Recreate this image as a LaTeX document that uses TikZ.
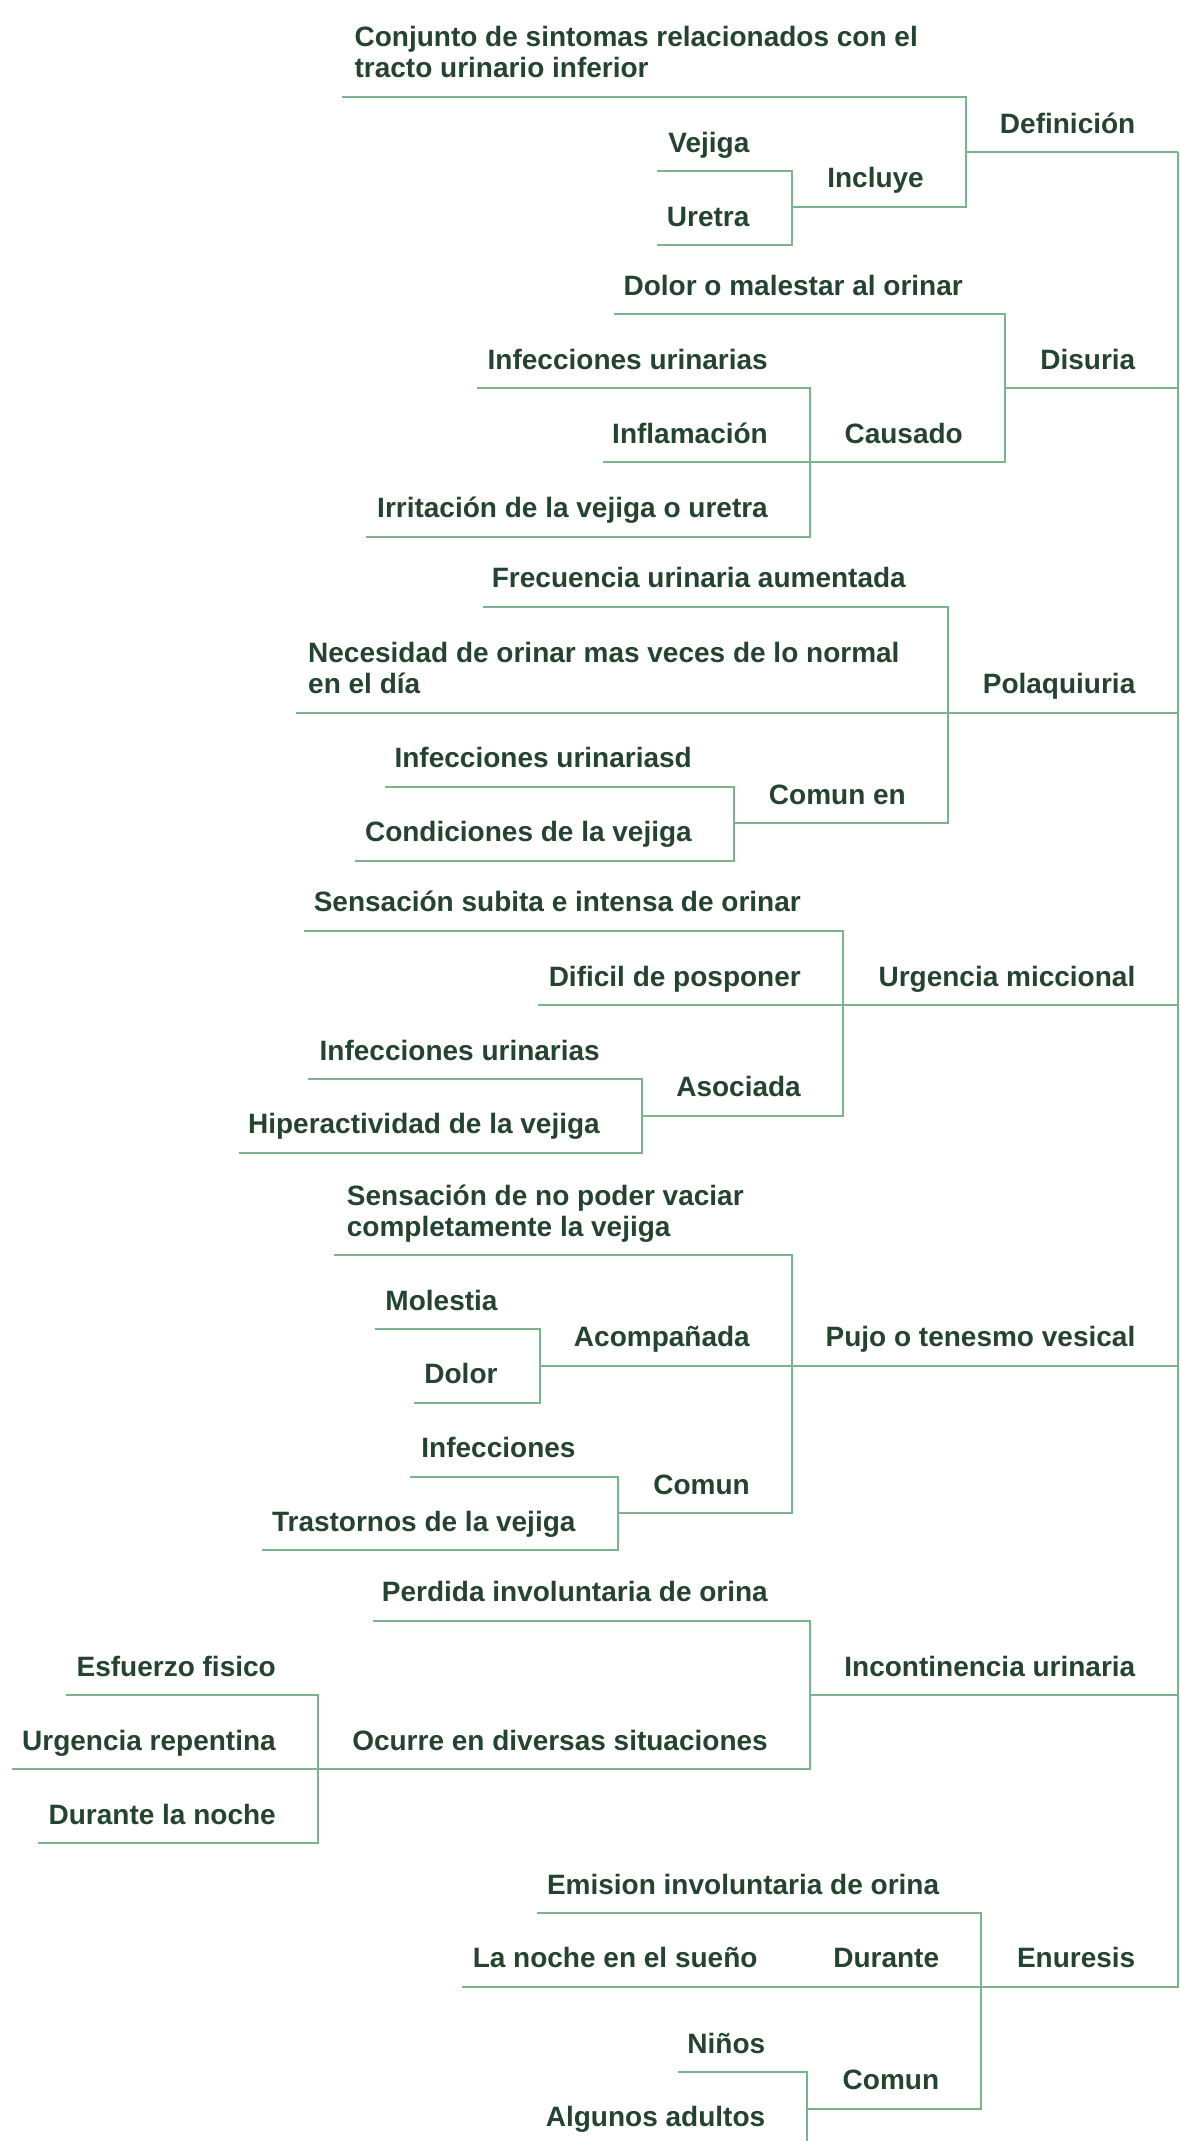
\documentclass[tikz,border=0pt]{standalone}
\usepackage{fontspec}
\setmainfont{Liberation Sans}
\definecolor{ink}{RGB}{36,68,48}
\definecolor{stem}{RGB}{122,180,140}

\begin{document}
\begin{tikzpicture}[x=1pt, y=-1pt,
  topic/.style={text=ink, font=\bfseries\fontsize{28}{31}\selectfont, inner sep=0pt},
  branch/.style={draw=stem, line width=2pt}]
\clip (0,0) rectangle (1179,2141);
\coordinate (root) at (1177.5,152.3);

% Definicion
\node[topic, anchor=base east] (definicion) at (1135.5,133.3) {Definición};
\coordinate (definicion-u) at (966,152.3);
\node[topic, anchor=base west, align=left] (conjunto) at (354.4,77.7) {Conjunto de sintomas relacionados con el\\tracto urinario inferior};
\coordinate (conjunto-u) at (342,96.7);
\node[topic, anchor=base east] (incluye) at (924,187.7) {Incluye};
\coordinate (incluye-u) at (791.6,206.7);
\node[topic, anchor=base east] (vejiga) at (749.6,152) {Vejiga};
\coordinate (vejiga-u) at (657,171);
\node[topic, anchor=base east] (uretra) at (749.6,226) {Uretra};
\coordinate (uretra-u) at (657,245);

% Disuria
\node[topic, anchor=base east] (disuria) at (1135.5,369.3) {Disuria};
\coordinate (disuria-u) at (1005,388.3);
\node[topic, anchor=base east] (dolor) at (963,295.3) {Dolor o malestar al orinar};
\coordinate (dolor-u) at (614,314.3);
\node[topic, anchor=base east] (causado) at (963,443.3) {Causado};
\coordinate (causado-u) at (810,462.3);
\node[topic, anchor=base east] (infeccA) at (768,369.3) {Infecciones urinarias};
\coordinate (infeccA-u) at (476.6,388.3);
\node[topic, anchor=base east] (inflamacion) at (768,443.3) {Inflamación};
\coordinate (inflamacion-u) at (602.7,462.3);
\node[topic, anchor=base east] (irritacion) at (768,517.7) {Irritación de la vejiga o uretra};
\coordinate (irritacion-u) at (366,536.7);

% Polaquiuria
\node[topic, anchor=base east] (polaquiuria) at (1135.5,693.7) {Polaquiuria};
\coordinate (polaquiuria-u) at (948,712.7);
\node[topic, anchor=base east] (frecuencia) at (906,587.7) {Frecuencia urinaria aumentada};
\coordinate (frecuencia-u) at (482.8,606.7);
\node[topic, anchor=base west, align=left] (necesidad) at (308,693.7) {Necesidad de orinar mas veces de lo normal\\en el día};
\coordinate (necesidad-u) at (296.2,712.7);
\node[topic, anchor=base east] (comunen) at (906,804.3) {Comun en};
\coordinate (comunen-u) at (734,823.3);
\node[topic, anchor=base east] (infeccB) at (692,767.7) {Infecciones urinariasd};
\coordinate (infeccB-u) at (384.5,786.7);
\node[topic, anchor=base east] (condiciones) at (692,841.7) {Condiciones de la vejiga};
\coordinate (condiciones-u) at (354.9,860.7);

% Urgencia miccional
\node[topic, anchor=base east] (urgencia) at (1135.5,986) {Urgencia miccional};
\coordinate (urgencia-u) at (843.1,1005);
\node[topic, anchor=base east] (subita) at (801,911.7) {Sensación subita e intensa de orinar};
\coordinate (subita-u) at (304.3,930.7);
\node[topic, anchor=base east] (dificil) at (801,986) {Dificil de posponer};
\coordinate (dificil-u) at (538.4,1005);
\node[topic, anchor=base east] (asociada) at (801,1096.7) {Asociada};
\coordinate (asociada-u) at (642.1,1115.7);
\node[topic, anchor=base east] (infeccC) at (600,1060) {Infecciones urinarias};
\coordinate (infeccC-u) at (308,1079);
\node[topic, anchor=base east] (hiper) at (600,1133.7) {Hiperactividad de la vejiga};
\coordinate (hiper-u) at (238.7,1152.7);

% Pujo o tenesmo vesical
\node[topic, anchor=base east] (pujo) at (1135.5,1346.7) {Pujo o tenesmo vesical};
\coordinate (pujo-u) at (791.9,1365.7);
\node[topic, anchor=base west, align=left] (vaciar) at (346.7,1236) {Sensación de no poder vaciar\\completamente la vejiga};
\coordinate (vaciar-u) at (334.2,1255);
\node[topic, anchor=base east] (acompanada) at (750,1346.7) {Acompañada};
\coordinate (acompanada-u) at (539.7,1365.7);
\node[topic, anchor=base east] (molestia) at (497.7,1310) {Molestia};
\coordinate (molestia-u) at (374.8,1329);
\node[topic, anchor=base east] (dolorB) at (497.7,1383.7) {Dolor};
\coordinate (dolorB-u) at (414.2,1402.7);
\node[topic, anchor=base east] (comunA) at (750,1494.3) {Comun};
\coordinate (comunA-u) at (617.7,1513.3);
\node[topic, anchor=base east] (infeccD) at (575.7,1457.7) {Infecciones};
\coordinate (infeccD-u) at (409.8,1476.7);
\node[topic, anchor=base east] (trastornos) at (575.7,1531) {Trastornos de la vejiga};
\coordinate (trastornos-u) at (262.4,1550);

% Incontinencia urinaria
\node[topic, anchor=base east] (incontinencia) at (1135.5,1676) {Incontinencia urinaria};
\coordinate (incontinencia-u) at (810.1,1695);
\node[topic, anchor=base east] (perdida) at (768,1601.7) {Perdida involuntaria de orina};
\coordinate (perdida-u) at (372.8,1620.7);
\node[topic, anchor=base east] (ocurre) at (768,1750) {Ocurre en diversas situaciones};
\coordinate (ocurre-u) at (317.9,1769);
\node[topic, anchor=base east] (esfuerzo) at (276,1676) {Esfuerzo fisico};
\coordinate (esfuerzo-u) at (66.2,1695);
\node[topic, anchor=base east] (repentina) at (276,1750) {Urgencia repentina};
\coordinate (repentina-u) at (12.3,1769);
\node[topic, anchor=base east] (noche) at (276,1824.3) {Durante la noche};
\coordinate (noche-u) at (38.3,1843.3);

% Enuresis
\node[topic, anchor=base east] (enuresis) at (1135.5,1967.7) {Enuresis};
\coordinate (enuresis-u) at (981.3,1986.7);
\node[topic, anchor=base east] (emision) at (939.3,1894) {Emision involuntaria de orina};
\coordinate (emision-u) at (536.6,1913);
\node[topic, anchor=base east] (durante) at (939.3,1967.7) {Durante};
\coordinate (durante-u) at (770.1,1986.7);
\node[topic, anchor=base east] (sueno) at (757.7,1967.7) {La noche en el sueño};
\coordinate (sueno-u) at (462.1,1986.7);
\node[topic, anchor=base east] (comunB) at (939.3,2089.7) {Comun};
\coordinate (comunB-u) at (807.4,2108.7);
\node[topic, anchor=base east] (ninos) at (765.4,2053.3) {Niños};
\coordinate (ninos-u) at (678.2,2072.3);
\node[topic, anchor=base east] (adultos) at (765.4,2126) {Algunos adultos};
\coordinate (adultos-u) at (537,2145);

% connectors
\draw[branch] (root) |- (definicion-u);
\draw[branch] (root) |- (disuria-u);
\draw[branch] (root) |- (polaquiuria-u);
\draw[branch] (root) |- (urgencia-u);
\draw[branch] (root) |- (pujo-u);
\draw[branch] (root) |- (incontinencia-u);
\draw[branch] (root) |- (enuresis-u);
\draw[branch] (definicion-u) |- (conjunto-u);
\draw[branch] (definicion-u) |- (incluye-u);
\draw[branch] (incluye-u) |- (vejiga-u);
\draw[branch] (incluye-u) |- (uretra-u);
\draw[branch] (disuria-u) |- (dolor-u);
\draw[branch] (disuria-u) |- (causado-u);
\draw[branch] (causado-u) |- (infeccA-u);
\draw[branch] (causado-u) |- (inflamacion-u);
\draw[branch] (causado-u) |- (irritacion-u);
\draw[branch] (polaquiuria-u) |- (frecuencia-u);
\draw[branch] (polaquiuria-u) |- (necesidad-u);
\draw[branch] (polaquiuria-u) |- (comunen-u);
\draw[branch] (comunen-u) |- (infeccB-u);
\draw[branch] (comunen-u) |- (condiciones-u);
\draw[branch] (urgencia-u) |- (subita-u);
\draw[branch] (urgencia-u) |- (dificil-u);
\draw[branch] (urgencia-u) |- (asociada-u);
\draw[branch] (asociada-u) |- (infeccC-u);
\draw[branch] (asociada-u) |- (hiper-u);
\draw[branch] (pujo-u) |- (vaciar-u);
\draw[branch] (pujo-u) |- (acompanada-u);
\draw[branch] (pujo-u) |- (comunA-u);
\draw[branch] (acompanada-u) |- (molestia-u);
\draw[branch] (acompanada-u) |- (dolorB-u);
\draw[branch] (comunA-u) |- (infeccD-u);
\draw[branch] (comunA-u) |- (trastornos-u);
\draw[branch] (incontinencia-u) |- (perdida-u);
\draw[branch] (incontinencia-u) |- (ocurre-u);
\draw[branch] (ocurre-u) |- (esfuerzo-u);
\draw[branch] (ocurre-u) |- (repentina-u);
\draw[branch] (ocurre-u) |- (noche-u);
\draw[branch] (enuresis-u) |- (emision-u);
\draw[branch] (enuresis-u) |- (durante-u);
\draw[branch] (enuresis-u) |- (comunB-u);
\draw[branch] (durante-u) |- (sueno-u);
\draw[branch] (comunB-u) |- (ninos-u);
\draw[branch] (comunB-u) |- (adultos-u);
\end{tikzpicture}
\end{document}
